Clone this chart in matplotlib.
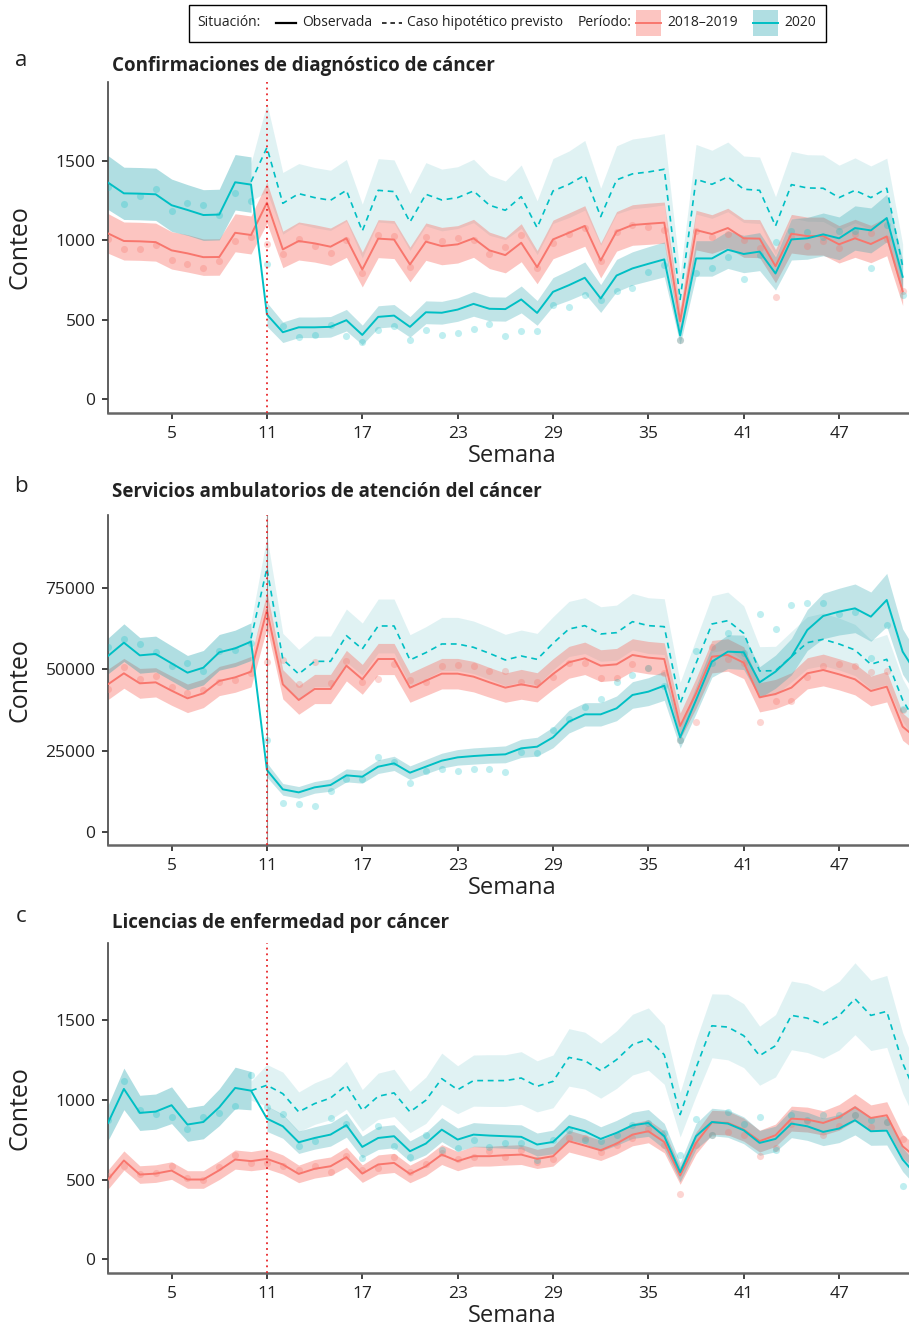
import numpy as np
import matplotlib
matplotlib.use("Agg")
import matplotlib.pyplot as plt
from matplotlib.lines import Line2D
from matplotlib.patches import Rectangle

plt.rcParams["font.family"] = ["Open Sans", "DejaVu Sans"]

# ---- datos (semanas 1..N; hipotético desde la semana 10) ----
# a: Confirmaciones de diagnóstico de cáncer
a_1819 = [1044, 996, 994, 989, 937, 918, 894, 895, 1048, 1034,
          1238, 943, 996, 981, 960, 1013, 816, 1011, 1005, 848,
          992, 964, 975, 1013, 937, 907, 985, 831, 1006, 1048,
          1091, 873, 1057, 1097, 1105, 1112, 489, 1065, 1040, 1078,
          1013, 1011, 837, 1042, 1027, 1027, 975, 1013, 977, 1025, 679]
a_2020 = [1365, 1297, 1295, 1291, 1222, 1192, 1160, 1163, 1367, 1352,
          532, 420, 451, 451, 454, 496, 403, 517, 525, 454,
          546, 543, 563, 599, 568, 566, 627, 542, 675, 717,
          764, 633, 778, 823, 852, 880, 399, 886, 886, 941,
          914, 929, 791, 1006, 1013, 1038, 1013, 1078, 1063, 1141, 770]
a_hip = [1370,
         1586, 1234, 1295, 1270, 1253, 1316, 1059, 1316, 1308, 1116,
         1291, 1255, 1270, 1312, 1222, 1190, 1276, 1080, 1312, 1354,
         1411, 1150, 1382, 1420, 1432, 1449, 627, 1386, 1354, 1401,
         1323, 1316, 1091, 1352, 1331, 1329, 1270, 1316, 1270, 1329, 837]
a_banda_1819 = [125, 120, 120, 120, 118, 118, 115, 115, 120, 120,
                130, 115, 120, 118, 118, 120, 110, 120, 120, 110,
                118, 118, 118, 120, 115, 112, 120, 105, 122, 125,
                128, 110, 125, 128, 130, 130, 80, 125, 122, 125,
                120, 120, 105, 122, 120, 120, 118, 120, 118, 122, 90]
a_banda_2020 = [170, 165, 165, 165, 165, 160, 160, 160, 175, 175,
                75, 65, 65, 65, 65, 68, 62, 70, 70, 65,
                72, 72, 74, 78, 76, 76, 85, 78, 90, 95,
                100, 88, 102, 105, 108, 110, 55, 112, 112, 118,
                118, 120, 105, 130, 132, 135, 135, 140, 142, 150, 110]
a_banda_hip = [120,
               280, 195, 190, 190, 190, 195, 170, 200, 200, 180,
               200, 195, 195, 200, 190, 185, 200, 170, 205, 210,
               220, 180, 215, 220, 222, 225, 160, 220, 215, 220,
               210, 210, 185, 210, 210, 210, 205, 205, 200, 190, 140]
a_pts_1819 = [1010, 947, 947, 968, 875, 848, 827, 869, 996, 1023,
              975, 916, 1006, 965, 920, 1000, 796, 1034, 1027, 831,
              1023, 996, 1013, 1000, 916, 957, 1034, 827, 985, 1038,
              1075, 869, 1055, 1095, 1084, 1063, 374, 1059, 1023, 1042,
              1000, 953, 643, 1020, 965, 996, 953, 1042, 1044, 1010, 679]
a_pts_2020 = [1340, 1228, 1278, 1325, 1185, 1238, 1223, 1160, 1302, 1249,
              853, 462, 388, 405, 464, 395, 357, 433, 462, 374,
              437, 401, 412, 441, 475, 395, 427, 427, 595, 581,
              658, 622, 679, 700, 800, 844, 374, 795, 825, 897,
              759, 910, 989, 1059, 1055, 1020, 1059, 1060, 823, 1100, 658]

# b: Servicios ambulatorios de atención del cáncer
b_1819 = [45420, 48810, 45720, 46030, 43460, 41100, 42640, 46440, 47570, 49320,
          68330, 45420, 40590, 43980, 43980, 51170, 46960, 53220, 53220, 44390,
          46550, 48700, 48700, 47780, 46030, 44390, 45420, 44490, 48600, 52200,
          53430, 51170, 51580, 54460, 53640, 53220, 32570, 42640, 53940, 54460,
          52090, 41410, 42440, 44390, 48810, 49830, 48500, 46960, 43360, 44700,
          32370, 28260]
b_2020 = [54150, 58260, 54350, 54770, 51890, 49010, 50550, 55280, 56510, 58570,
          19010, 13050, 12120, 13670, 14380, 17360, 16950, 20040, 21060, 18190,
          20040, 21890, 22910, 23320, 23630, 23840, 25690, 26200, 29080, 33910,
          36170, 36170, 38020, 42130, 43160, 45000, 29080, 40590, 52400, 55490,
          55280, 46030, 49320, 53940, 62160, 66480, 67820, 68840, 66270, 71410,
          55490, 47780]
b_hip = [59600,
         81170, 53120, 48600, 52500, 52500, 60420, 56310, 63400, 63400, 52920,
         55180, 57850, 57850, 56820, 54970, 52920, 54150, 53120, 58050, 62470,
         63500, 60930, 61340, 64730, 63500, 63190, 39560, 51890, 64010, 65040,
         61140, 49530, 49630, 53940, 58260, 59290, 57850, 56000, 51580, 53120,
         40590, 32370]
b_banda_1819 = [4700, 4600, 4600, 4500, 4500, 4400, 4400, 4500, 4600, 4700,
                5500, 4500, 4400, 4500, 4500, 4700, 4600, 4800, 4800, 4500,
                4600, 4700, 4700, 4700, 4600, 4500, 4600, 4500, 4700, 4900,
                5000, 4900, 4900, 5000, 5000, 5000, 4000, 4600, 5000, 5000,
                4900, 4500, 4500, 4600, 4800, 4900, 4800, 4800, 4600, 4700,
                4200, 4000]
b_banda_2020 = [5500, 5800, 5500, 5500, 5400, 5300, 5300, 5500, 5600, 5800,
                2200, 1800, 1800, 1800, 1900, 2000, 2000, 2100, 2200, 2100,
                2200, 2300, 2400, 2500, 2500, 2600, 2800, 2900, 3200, 3500,
                3600, 3600, 3800, 4100, 4300, 4500, 3300, 4200, 4800, 5200,
                5300, 4800, 5100, 5600, 6300, 7000, 7200, 7500, 7600, 8200,
                7000, 6500]
b_banda_hip = [5000,
               9800, 8000, 7600, 7800, 7800, 8200, 8000, 8300, 8300, 7800,
               8000, 8200, 8200, 8100, 8000, 7900, 8000, 8000, 8200, 8500,
               8600, 8400, 8500, 8700, 8600, 8600, 6500, 7500, 8700, 8800,
               8500, 7500, 7500, 7800, 8000, 8100, 8000, 7900, 7600, 7700,
               6500, 6000]
b_pts_1819 = [43870, 50860, 47060, 48090, 44700, 42850, 43670, 46240, 46750, 49000,
              52400, 52920, 45420, 52400, 45930, 52610, 46240, 47160, 51580, 46750,
              46240, 51070, 51380, 51070, 49630, 49530, 46240, 46030, 47570, 51890,
              51890, 47470, 47470, 51680, 50550, 48810, 28260, 33910, 57030, 53120,
              52000, 33910, 40280, 40280, 47570, 51170, 51680, 51070, 49320, 49630,
              37500, 32000]
b_pts_2020 = [57030, 59290, 57750, 55500, 51000, 52090, 49500, 55690, 56000, 58000,
              28260, 8730, 8530, 7910, 12540, 16130, 16130, 23120, 21580, 15100,
              18700, 19210, 18800, 19210, 19420, 18290, 24660, 24150, 31340, 34630,
              38330, 40790, 46240, 48390, 50550, 45000, 28260, 55690, 52000, 61340,
              55000, 66990, 62470, 69870, 70380, 70380, 67000, 67820, 53430, 63710,
              37710, 45000]

# c: Licencias de enfermedad por cáncer
c_1819 = [500, 619, 531, 537, 556, 500, 500, 558, 625, 615,
          629, 594, 535, 567, 583, 640, 537, 594, 604, 535,
          583, 656, 615, 646, 646, 652, 656, 629, 646, 740,
          712, 683, 725, 781, 802, 735, 525, 729, 858, 854,
          812, 740, 777, 881, 875, 854, 889, 952, 885, 902, 708, 625]
c_2020 = [854, 1067, 917, 925, 965, 844, 860, 952, 1073, 1056,
          881, 833, 733, 760, 781, 840, 704, 760, 771, 677,
          725, 812, 750, 781, 775, 771, 767, 719, 735, 829,
          802, 754, 792, 839, 854, 771, 546, 771, 860, 850,
          808, 729, 754, 850, 833, 798, 819, 871, 802, 806, 625, 510]
c_hip = [1056,
         1090, 1037, 923, 975, 1010, 1090, 933, 1021, 1042, 923,
         996, 1131, 1062, 1119, 1119, 1119, 1135, 1083, 1114, 1264,
         1244, 1181, 1250, 1344, 1379, 1281, 906, 1198, 1462, 1454,
         1400, 1275, 1337, 1527, 1510, 1469, 1525, 1631, 1527, 1552, 1229, 1000]
c_banda_1819 = [60, 60, 55, 55, 55, 55, 55, 58, 60, 60,
                62, 60, 55, 58, 58, 62, 55, 60, 60, 55,
                58, 62, 60, 62, 62, 62, 62, 60, 62, 68,
                66, 64, 66, 70, 72, 68, 55, 68, 75, 75,
                72, 68, 70, 78, 78, 76, 80, 85, 82, 85, 75, 70]
c_banda_2020 = [110, 130, 110, 110, 115, 105, 105, 115, 130, 120,
                80, 75, 70, 70, 72, 75, 68, 72, 72, 65,
                70, 75, 72, 75, 75, 75, 75, 72, 74, 80,
                78, 76, 78, 82, 84, 80, 60, 80, 86, 86,
                84, 78, 80, 88, 88, 86, 88, 92, 88, 90, 75, 70]
c_banda_hip = [60,
               130, 135, 125, 130, 135, 150, 130, 145, 148, 130,
               145, 160, 150, 160, 162, 162, 165, 160, 165, 180,
               178, 172, 180, 190, 195, 185, 140, 175, 200, 205,
               200, 185, 195, 215, 215, 210, 215, 225, 220, 225, 190, 170]
c_pts_1819 = [520, 587, 535, 542, 583, 510, 496, 579, 656, 604,
              604, 583, 562, 583, 548, 646, 560, 573, 640, 548,
              598, 667, 629, 640, 677, 640, 687, 610, 629, 760,
              760, 671, 719, 760, 819, 719, 412, 719, 781, 798,
              781, 650, 698, 848, 865, 781, 837, 906, 829, 858, 754, 640]
c_pts_2020 = [870, 1119, 937, 910, 889, 819, 889, 917, 962, 1156,
              954, 910, 708, 740, 885, 848, 635, 833, 712, 640,
              777, 687, 698, 746, 702, 729, 729, 625, 750, 812,
              750, 740, 781, 844, 854, 790, 656, 881, 781, 923,
              848, 892, 687, 906, 871, 906, 906, 906, 875, 858, 462, 520]

titulos = ["Confirmaciones de diagnóstico de cáncer",
           "Servicios ambulatorios de atención del cáncer",
           "Licencias de enfermedad por cáncer"]
letras = ["a", "b", "c"]
xticks = [5, 11, 17, 23, 29, 35, 41, 47]

ROJO = "#F8766D"
TURQ = "#00BFC4"
TURQ_BANDA = "#1DA1AC"
W, H = 909, 1334


def fx(x):
    return x / W


def fy(y):
    return 1 - y / H


def dibujar_panel(ax, obs_1819, obs_2020, hip, b1819, b2020, bhip, p1819, p2020,
                  ylim, yticks, gris=False):
    obs_1819 = np.asarray(obs_1819, float)
    obs_2020 = np.asarray(obs_2020, float)
    hip = np.asarray(hip, float)
    b1819 = np.asarray(b1819, float)
    b2020 = np.asarray(b2020, float)
    bhip = np.asarray(bhip, float)
    sem = np.arange(1, len(obs_1819) + 1)
    sem_hip = np.arange(10, 10 + len(hip))
    pre = sem <= 10
    post = sem >= 11

    ax.fill_between(sem_hip, hip - bhip, hip + bhip, color=TURQ_BANDA, alpha=0.135, lw=0, zorder=1)
    ax.fill_between(sem, obs_1819 - b1819, obs_1819 + b1819, color=ROJO, alpha=0.42, lw=0, zorder=2)
    ax.fill_between(sem[pre], obs_2020[pre] - b2020[pre], obs_2020[pre] + b2020[pre],
                    color=TURQ_BANDA, alpha=0.35, lw=0, zorder=2)
    ax.fill_between(sem[post], obs_2020[post] - b2020[post], obs_2020[post] + b2020[post],
                    color=TURQ_BANDA, alpha=0.28, lw=0, zorder=2)

    ax.scatter(sem, p1819, s=26, color=ROJO, alpha=0.3, lw=0, zorder=3)
    ax.scatter(sem, p2020, s=26, color=TURQ, alpha=0.25, lw=0, zorder=3)

    ax.plot(sem, obs_1819, color=ROJO, lw=1.4, zorder=4)
    ax.plot(sem, obs_2020, color=TURQ, lw=1.4, zorder=4)
    ax.plot(sem_hip, hip, color=TURQ, lw=1.2, ls=(0, (3.5, 2.8)), zorder=4)

    if gris:
        ax.axvline(11, color="#555555", lw=0.8, alpha=0.6, zorder=4.5)
    ax.axvline(11, color="#E8262A", lw=1.3, ls=(0, (1, 2.2)), zorder=5)

    ax.set_xlim(1, 51.4)
    ax.set_ylim(*ylim)
    ax.set_xticks(xticks)
    ax.set_yticks(yticks)
    ax.tick_params(labelsize=12.5, length=4, width=1.2, color="#222222",
                   labelcolor="#222222", pad=5)
    for s in ("top", "right"):
        ax.spines[s].set_visible(False)
    ax.spines["left"].set_color("#444444")
    ax.spines["bottom"].set_color("#666666")
    ax.spines["left"].set_linewidth(1.2)
    ax.spines["bottom"].set_linewidth(1.8)
    ax.set_xlabel("Semana", fontsize=17, color="#222222")
    ax.set_ylabel("Conteo", fontsize=18, color="#222222")
    ax.xaxis.set_label_coords(0.505, -0.095)
    ax.yaxis.set_label_coords(-0.094, 0.5)


fig = plt.figure(figsize=(W / 100, H / 100), dpi=100)

paneles = [
    (82, 413, (a_1819, a_2020, a_hip, a_banda_1819, a_banda_2020, a_banda_hip, a_pts_1819, a_pts_2020),
     (-90, 2000), [0, 500, 1000, 1500], False, 16),
    (515, 845, (b_1819, b_2020, b_hip, b_banda_1819, b_banda_2020, b_banda_hip, b_pts_1819, b_pts_2020),
     (-4100, 97600), [0, 25000, 50000, 75000], True, 23),
    (943, 1273, (c_1819, c_2020, c_hip, c_banda_1819, c_banda_2020, c_banda_hip, c_pts_1819, c_pts_2020),
     (-85, 1980), [0, 500, 1000, 1500], False, 20),
]

for i, (top, bottom, datos, ylim, yticks, gris, dtit) in enumerate(paneles):
    ax = fig.add_axes([fx(108), fy(bottom), fx(W - 108), (bottom - top) / H])
    dibujar_panel(ax, *datos, ylim=ylim, yticks=yticks, gris=gris)
    fig.text(fx(112), fy(top - dtit), titulos[i], fontsize=13.5, fontweight="bold",
             ha="left", va="center", color="#222222")
    fig.text(fx(21), fy(top - dtit - 6), letras[i], fontsize=16, ha="center",
             va="center", color="#222222")

# ---- leyenda superior ----
fig.add_artist(Rectangle((fx(189), fy(42)), fx(826 - 189), 37 / H, transform=fig.transFigure,
                         fill=False, ec="black", lw=1.0))
yl = fy(23)
ley_txt = dict(fontsize=10, va="center", ha="left", color="#222222")
fig.text(fx(197), yl, "Situación:", **ley_txt)
fig.add_artist(Line2D([fx(276), fx(296)], [yl, yl], color="black", lw=1.6,
                      transform=fig.transFigure))
fig.text(fx(302), yl, "Observada", **ley_txt)
fig.add_artist(Line2D([fx(382), fx(402)], [yl, yl], color="black", lw=1.1,
                      ls=(0, (3, 2.5)), transform=fig.transFigure))
fig.text(fx(407), yl, "Caso hipotético previsto", **ley_txt)
fig.text(fx(578), yl, "Período:", **ley_txt)
for x0, col, fill, alfa, lab in [(636, ROJO, ROJO, 0.42, "2018–2019"),
                                 (753, TURQ, TURQ_BANDA, 0.35, "2020")]:
    fig.add_artist(Rectangle((fx(x0), fy(36)), fx(25), 26 / H, transform=fig.transFigure,
                             fc=fill, alpha=alfa, lw=0))
    fig.add_artist(Line2D([fx(x0), fx(x0 + 25)], [yl, yl], color=col, lw=1.4,
                          transform=fig.transFigure))
    fig.text(fx(x0 + 31), yl, lab, **ley_txt)

fig.savefig("out.png", dpi=100)
